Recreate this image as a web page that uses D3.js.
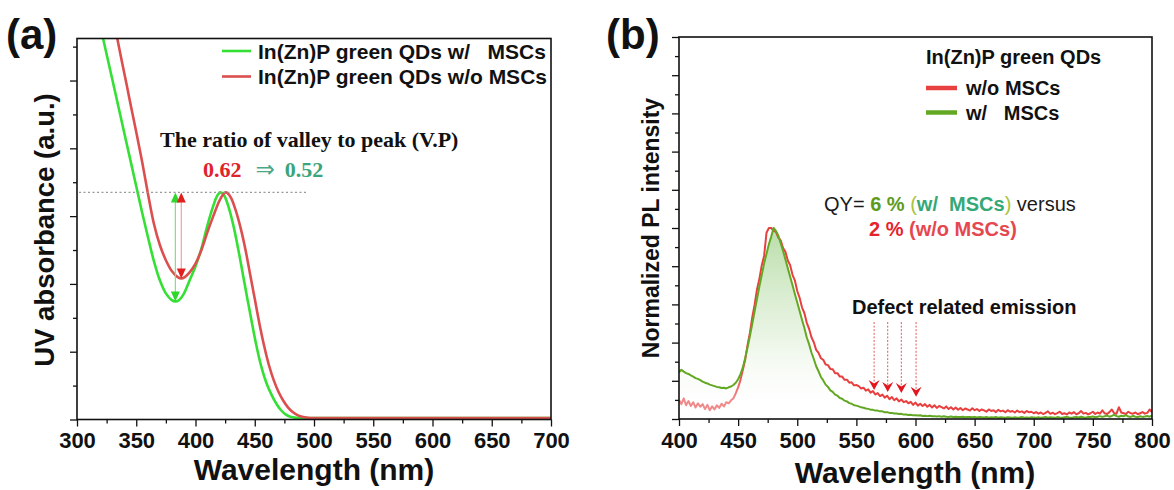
<!DOCTYPE html>
<html>
<head>
<meta charset="utf-8">
<script src="https://cdn.jsdelivr.net/npm/d3@7"></script>
<style>
  body { margin: 0; background: #fff; }
  svg text { font-family: "Liberation Sans", Arial, sans-serif; }
</style>
</head>
<body>
<svg id="fig" width="1174" height="490"></svg>
<script>
// ---------- Panel (a): UV-vis absorption of In(Zn)P green QDs ----------
const uvWlGreen  = [318,322,326,330,335,340,345,350,355,360,365,370,375,380,383,386,390,395,400,405,
                    410,415,418,421,424,428,432,436,440,444,448,452,456,460,464,468,472,476,480,485,
                    490,500,550,600,650,700];
const uvAbsGreen = [5.93,5.62,5.31,5.0,4.61,4.22,3.83,3.44,3.05,2.68,2.33,2.05,1.86,1.76,1.74,1.76,1.85,2.05,2.26,2.52,
                    2.86,3.15,3.29,3.35,3.31,3.13,2.86,2.52,2.14,1.76,1.39,1.04,0.75,0.53,0.37,0.24,0.14,0.075,0.04,0.024,
                    0.02,0.02,0.02,0.02,0.02,0.02];
const uvWlRed    = [330,334,338,342,346,350,355,360,365,370,375,380,385,388,391,395,400,405,410,415,
                    420,423,425,427,430,434,438,442,446,450,454,458,462,466,470,474,478,482,486,490,
                    495,500,510,550,600,650,700];
const uvAbsRed   = [5.97,5.62,5.27,4.93,4.58,4.24,3.80,3.32,2.88,2.57,2.35,2.19,2.10,2.08,2.10,2.17,2.3,2.5,2.76,3.0,
                    3.22,3.31,3.35,3.34,3.27,3.08,2.83,2.52,2.15,1.78,1.41,1.08,0.8,0.58,0.41,0.28,0.18,0.11,0.065,0.04,
                    0.026,0.022,0.02,0.02,0.02,0.02,0.02];
const uvXTicks   = [300,350,400,450,500,550,600,650,700];
const uvXMinor   = [325,375,425,475,525,575,625,675];
const uvYTicks   = [0,1,2,3,4,5];
const uvYMinor   = [0.5,1.5,2.5,3.5,4.5,5.5];
const uvPeakLineNm = [300, 495];
const vpLabels   = ["0.62", "0.52"];
const uvLegend   = ["In(Zn)P green QDs w/   MSCs", "In(Zn)P green QDs w/o MSCs"];

// ---------- Panel (b): normalized PL spectra (2 nm steps, 400-800 nm) ----------
const plWl = d3.range(400, 801, 2);
const plGreen = [
  .245,.258,.248,.24,.236,.228,.222,.214,.21,.204,.196,.19,.186,.18,.176,.172,.168,.166,.162,.164,.16,.166,.17,.178,.19,.208,
  .235,.27,.32,.375,.435,.5,.565,.63,.695,.755,.815,.865,.915,.955,1.0,.985,.96,.92,.88,.835,.79,.745,.7,.655,.61,
  .565,.52,.478,.428,.392,.348,.314,.276,.25,.22,.202,.18,.168,.15,.142,.128,.122,.11,.106,.096,.092,.083,.08,.072,.07,
  .066,.061,.059,.055,.053,.049,.048,.044,.044,.04,.04,.035,.036,.032,.032,.029,.029,.026,.027,.023,.024,.021,.022,.019,.02,
  .018,.02,.016,.017,.015,.017,.014,.015,.013,.015,.012,.014,.012,.011,.013,.01,.012,.011,.01,.012,.009,.011,.01,.009,.011,
  .008,.01,.009,.008,.01,.007,.009,.008,.01,.007,.009,.008,.007,.009,.008,.006,.009,.007,.008,.01,.007,.008,.006,.009,.008,
  .007,.009,.006,.008,.01,.007,.009,.008,.006,.01,.008,.007,.009,.011,.008,.006,.009,.01,.008,.012,.009,.007,.011,.01,.013,
  .009,.012,.015,.011,.014,.018,.012,.016,.022,.015,.012,.017,.014,.02,.013,.011,.016,.012,.01,.014,.011,.013,.016,.012,.018
];
const plRed = [
  .1,.078,.108,.072,.094,.068,.088,.06,.082,.064,.078,.052,.074,.046,.066,.05,.072,.058,.08,.066,.088,.082,.098,.108,.135,.165,
  .205,.258,.312,.388,.452,.535,.6,.68,.735,.805,.855,.975,1.0,1.0,.985,.98,.95,.935,.895,.875,.83,.805,.755,.725,.67,
  .635,.585,.555,.505,.472,.428,.402,.362,.346,.318,.31,.285,.282,.262,.26,.24,.24,.222,.222,.205,.206,.19,.192,.176,.178,
  .172,.16,.164,.148,.155,.138,.146,.128,.136,.12,.128,.112,.122,.104,.115,.098,.108,.092,.102,.088,.094,.082,.09,.074,.086,
  .07,.08,.068,.078,.064,.074,.06,.072,.058,.068,.062,.055,.066,.052,.062,.05,.06,.048,.058,.046,.055,.05,.044,.056,.046,
  .052,.042,.05,.045,.038,.05,.042,.046,.036,.048,.04,.044,.035,.046,.038,.042,.034,.044,.036,.04,.032,.042,.035,.038,.03,
  .036,.028,.034,.026,.032,.04,.027,.033,.025,.031,.038,.026,.03,.024,.034,.028,.036,.025,.03,.042,.028,.032,.024,.03,.038,
  .026,.034,.028,.045,.03,.026,.036,.05,.03,.028,.062,.034,.03,.026,.038,.03,.028,.034,.025,.03,.036,.028,.032,.05,.035
];
const plXTicks = [400,450,500,550,600,650,700,750,800];
const plXMinor = [425,475,525,575,625,675,725,775];
const plYTicks = [0,.2,.4,.6,.8,1.0,1.2,1.4,1.6,1.8,2.0];
const plYMinor = [.1,.3,.5,.7,.9,1.1,1.3,1.5,1.7,1.9];
const defectWl  = [565, 576.5, 588, 600.5];
const defectTip = [0.152, 0.142, 0.136, 0.116];
const plLegend  = ["w/o MSCs", "w/   MSCs"];

// ---------- colours ----------
const C = {
  uvGreen: "#34e034", uvRed: "#db4f4f",
  plGreen: "#63a823", plRed: "#e8403f", plRedLight: "#f08a8a",
  ink: "#111"
};

const svg = d3.select("#fig");
const defs = svg.append("defs");

// scales
const xa = d3.scaleLinear().domain([300, 700]).range([77, 551]);
const ya = d3.scaleLinear().domain([0, 5.62]).range([419.5, 38.5]);
const xb = d3.scaleLinear().domain([400, 800]).range([679, 1152]);
const yb = d3.scaleLinear().domain([0, 2]).range([419, 37]);

function axesAndFrame(g, x, y, xMaj, xMin, yMaj, yMin) {
  const [x0, x1] = x.range();
  const [y0, y1] = y.range();
  const styleTicks = sel => {
    sel.select(".domain").remove();
    sel.selectAll("line").attr("stroke", C.ink).attr("stroke-width", 1.3);
  };
  g.append("g").attr("transform", `translate(0,${y0})`)
    .call(d3.axisBottom(x).tickValues(xMin).tickSize(4).tickFormat(""))
    .call(styleTicks);
  g.append("g").attr("transform", `translate(0,${y0})`)
    .call(d3.axisBottom(x).tickValues(xMaj).tickSize(7).tickPadding(6).tickFormat(d3.format("d")))
    .call(styleTicks)
    .call(a => a.selectAll("text").attr("font-size", 22).attr("font-weight", "bold").attr("fill", C.ink));
  g.append("g").attr("transform", `translate(${x0},0)`)
    .call(d3.axisLeft(y).tickValues(yMin).tickSize(4).tickFormat(""))
    .call(styleTicks);
  g.append("g").attr("transform", `translate(${x0},0)`)
    .call(d3.axisLeft(y).tickValues(yMaj).tickSize(7).tickFormat(""))
    .call(styleTicks);
  g.append("rect")
    .attr("x", x0).attr("y", y1).attr("width", x1 - x0).attr("height", y0 - y1)
    .attr("fill", "none").attr("stroke", C.ink).attr("stroke-width", 1.6);
}

function clipFor(id, x, y) {
  const [x0, x1] = x.range();
  const [y0, y1] = y.range();
  defs.append("clipPath").attr("id", id).append("rect")
    .attr("x", x0).attr("y", y1).attr("width", x1 - x0).attr("height", y0 - y1);
}

// ================= Panel (a) =================
const ga = svg.append("g");
clipFor("clipA", xa, ya);
const plotA = ga.append("g").attr("clip-path", "url(#clipA)");

const lineA = d3.line().curve(d3.curveCatmullRom.alpha(0.5));
const greenUV = uvWlGreen.map((w, i) => [w, uvAbsGreen[i]]);
const redUV   = uvWlRed.map((w, i) => [w, uvAbsRed[i]]);

plotA.append("path")
  .attr("d", lineA(greenUV.map(d => [xa(d[0]), ya(d[1])])))
  .attr("fill", "none").attr("stroke", C.uvGreen).attr("stroke-width", 2.6);
plotA.append("path")
  .attr("d", lineA(redUV.map(d => [xa(d[0]), ya(d[1])])))
  .attr("fill", "none").attr("stroke", C.uvRed).attr("stroke-width", 2.6);

// first-exciton peak level and valley positions
const peakAbs = d3.max(greenUV.filter(d => d[0] > 400 && d[0] < 440), d => d[1]);
const valleyOf = arr => d3.least(arr.filter(d => d[0] > 360 && d[0] < 410), d => d[1]);
const vGreen = valleyOf(greenUV);
const vRed = valleyOf(redUV);

ga.append("line")
  .attr("x1", xa(uvPeakLineNm[0]) + 2).attr("x2", xa(uvPeakLineNm[1]))
  .attr("y1", ya(peakAbs)).attr("y2", ya(peakAbs))
  .attr("stroke", "#999").attr("stroke-width", 1.1).attr("stroke-dasharray", "2,2.5");

function doubleArrow(g, x, yTop, yBot, lineColor, headColor) {
  g.append("line").attr("x1", x).attr("x2", x).attr("y1", yTop + 6).attr("y2", yBot - 6)
    .attr("stroke", lineColor).attr("stroke-width", 1.2);
  g.append("path").attr("d", `M${x},${yTop}L${x - 4.5},${yTop + 10}L${x + 4.5},${yTop + 10}Z`).attr("fill", headColor);
  g.append("path").attr("d", `M${x},${yBot}L${x - 4.5},${yBot - 10}L${x + 4.5},${yBot - 10}Z`).attr("fill", headColor);
}
doubleArrow(ga, xa(vGreen[0]), ya(peakAbs), ya(vGreen[1]), "#7fe07f", "#2ed62e");
doubleArrow(ga, xa(vRed[0]), ya(peakAbs), ya(vRed[1]), "#e9a3a3", "#e31e1e");

// annotation text
ga.append("text").attr("x", 160).attr("y", 147)
  .attr("font-size", 22).attr("font-weight", "bold").attr("fill", C.ink)
  .style("font-family", "'Liberation Serif','Times New Roman',serif")
  .text("The ratio of valley to peak (V.P)");
const vp = ga.append("text").attr("x", 203).attr("y", 177)
  .attr("font-size", 22).attr("font-weight", "bold")
  .style("font-family", "'Liberation Serif','Times New Roman',serif");
vp.append("tspan").attr("fill", "#e0222c").text(vpLabels[0]);
vp.append("tspan").attr("fill", "#4aa888").attr("font-weight", "normal").attr("dx", 14)
  .style("font-family", "'DejaVu Sans',sans-serif").attr("font-size", 23).text("\u21D2");
vp.append("tspan").attr("fill", "#3aa57a").attr("dx", 10).text(vpLabels[1]);

// legend
[C.uvGreen, C.uvRed].forEach((c, i) => {
  const yy = 51 + i * 25.5;
  ga.append("line").attr("x1", 222).attr("x2", 251).attr("y1", yy).attr("y2", yy)
    .attr("stroke", c).attr("stroke-width", 2.6);
  ga.append("text").attr("x", 258).attr("y", yy + 7.5)
    .attr("font-size", 21).attr("font-weight", "bold").attr("fill", C.ink)
    .style("white-space", "pre").text(uvLegend[i]);
});

axesAndFrame(ga, xa, ya, uvXTicks, uvXMinor, uvYTicks, uvYMinor);

ga.append("text").attr("x", 6).attr("y", 49)
  .attr("font-size", 42).attr("font-weight", "bold").attr("fill", C.ink).text("(a)");
ga.append("text").attr("x", 314).attr("y", 480).attr("text-anchor", "middle")
  .attr("font-size", 30).attr("font-weight", "bold").attr("fill", C.ink).text("Wavelength (nm)");
ga.append("text").attr("transform", "translate(54,230) rotate(-90)").attr("text-anchor", "middle")
  .attr("font-size", 27.5).attr("font-weight", "bold").attr("fill", C.ink).text("UV absorbance (a.u.)");

// ================= Panel (b) =================
const gb = svg.append("g");
clipFor("clipB", xb, yb);
const plotB = gb.append("g").attr("clip-path", "url(#clipB)");

const fillGrad = defs.append("linearGradient").attr("id", "plFill")
  .attr("gradientUnits", "userSpaceOnUse")
  .attr("x1", 0).attr("x2", 0).attr("y1", yb(1)).attr("y2", yb(0));
fillGrad.append("stop").attr("offset", 0).attr("stop-color", "#9ccf84").attr("stop-opacity", 0.7);
fillGrad.append("stop").attr("offset", 0.55).attr("stop-color", "#d6ebcc").attr("stop-opacity", 0.55);
fillGrad.append("stop").attr("offset", 1).attr("stop-color", "#ffffff").attr("stop-opacity", 0);

const redGrad = defs.append("linearGradient").attr("id", "plRedStroke")
  .attr("gradientUnits", "userSpaceOnUse")
  .attr("x1", xb(400)).attr("x2", xb(800)).attr("y1", 0).attr("y2", 0);
redGrad.append("stop").attr("offset", 0).attr("stop-color", C.plRedLight);
redGrad.append("stop").attr("offset", 0.115).attr("stop-color", C.plRedLight);
redGrad.append("stop").attr("offset", 0.14).attr("stop-color", C.plRed);
redGrad.append("stop").attr("offset", 1).attr("stop-color", C.plRed);

const greenPL = plWl.map((w, i) => [w, plGreen[i]]);
const redPL   = plWl.map((w, i) => [w, plRed[i]]);

plotB.append("path")
  .attr("d", d3.area().x(d => xb(d[0])).y0(yb(0)).y1(d => yb(d[1]))(greenPL))
  .attr("fill", "url(#plFill)");
plotB.append("path")
  .attr("d", d3.line().x(d => xb(d[0])).y(d => yb(d[1]))(redPL))
  .attr("fill", "none").attr("stroke", "url(#plRedStroke)").attr("stroke-width", 2)
  .attr("stroke-linejoin", "round");
plotB.append("path")
  .attr("d", d3.line().x(d => xb(d[0])).y(d => yb(d[1]))(greenPL))
  .attr("fill", "none").attr("stroke", C.plGreen).attr("stroke-width", 2)
  .attr("stroke-linejoin", "round");

// defect-emission markers
defectWl.forEach((w, i) => {
  const x = xb(w), tip = yb(defectTip[i]);
  gb.append("line").attr("x1", x).attr("x2", x).attr("y1", 322).attr("y2", tip - 6)
    .attr("stroke", "#e05a5a").attr("stroke-width", 1).attr("stroke-dasharray", "2,1.6");
  gb.append("path")
    .attr("d", `M${x},${tip}L${x - 5.5},${tip - 10}L${x},${tip - 6.5}L${x + 5.5},${tip - 10}Z`)
    .attr("fill", "#e3161e");
});
gb.append("text").attr("x", 852).attr("y", 314)
  .attr("font-size", 20).attr("font-weight", "bold").attr("fill", C.ink).text("Defect related emission");

// quantum-yield note
const qy1 = gb.append("text").attr("x", 824).attr("y", 211).attr("font-size", 20)
  .style("white-space", "pre");
qy1.append("tspan").attr("fill", "#1a1a1a").text("QY= ");
qy1.append("tspan").attr("fill", "#5e9a1c").attr("font-weight", "bold").text("6 % ");
qy1.append("tspan").attr("fill", "#a6c43c").text("(");
qy1.append("tspan").attr("fill", "#35a878").attr("font-weight", "bold").text("w/  MSCs");
qy1.append("tspan").attr("fill", "#a6c43c").text(")");
qy1.append("tspan").attr("fill", "#1a1a1a").text(" versus");
const qy2 = gb.append("text").attr("x", 869).attr("y", 236).attr("font-size", 20)
  .style("white-space", "pre");
qy2.append("tspan").attr("fill", "#e5232b").attr("font-weight", "bold").text("2 % ");
qy2.append("tspan").attr("fill", "#e5474f").attr("font-weight", "bold").text("(w/o MSCs)");

// legend
gb.append("text").attr("x", 926).attr("y", 64)
  .attr("font-size", 20).attr("font-weight", "bold").attr("fill", C.ink).text("In(Zn)P green QDs");
[C.plRed, C.plGreen].forEach((c, i) => {
  const yy = 88 + i * 24.5;
  gb.append("line").attr("x1", 926).attr("x2", 957).attr("y1", yy).attr("y2", yy)
    .attr("stroke", c).attr("stroke-width", 4.5);
  gb.append("text").attr("x", 966).attr("y", yy + 7)
    .attr("font-size", 20).attr("font-weight", "bold").attr("fill", C.ink)
    .style("white-space", "pre").text(plLegend[i]);
});

axesAndFrame(gb, xb, yb, plXTicks, plXMinor, plYTicks, plYMinor);

gb.append("text").attr("x", 606).attr("y", 49)
  .attr("font-size", 42).attr("font-weight", "bold").attr("fill", C.ink).text("(b)");
gb.append("text").attr("x", 915).attr("y", 483).attr("text-anchor", "middle")
  .attr("font-size", 30).attr("font-weight", "bold").attr("fill", C.ink).text("Wavelength (nm)");
gb.append("text").attr("transform", "translate(659,228) rotate(-90)").attr("text-anchor", "middle")
  .attr("font-size", 23).attr("font-weight", "bold").attr("fill", C.ink).text("Normalized PL intensity");
</script>
</body>
</html>
